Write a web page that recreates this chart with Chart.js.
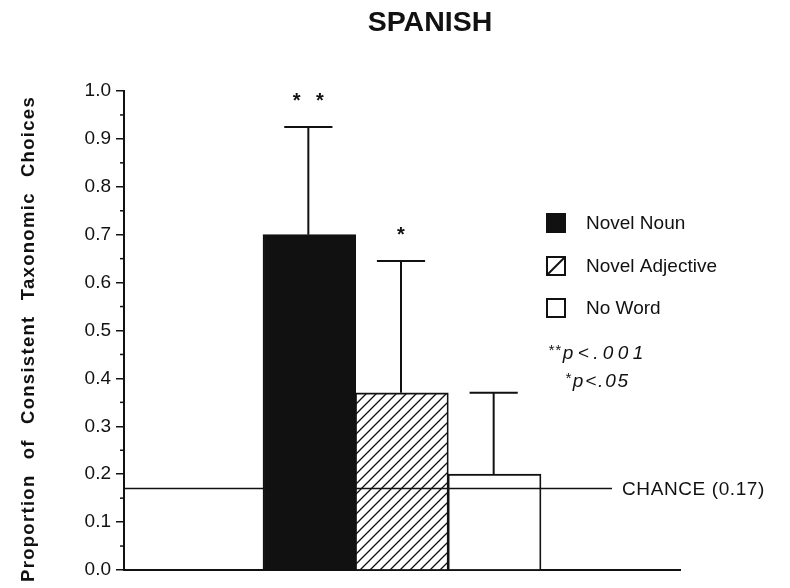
<!DOCTYPE html>
<html>
<head>
<meta charset="utf-8">
<title>Spanish - taxonomic choices</title>
<script src="https://cdn.jsdelivr.net/npm/chart.js@4.4.1/dist/chart.umd.min.js"></script>
<style>
  html, body { margin: 0; padding: 0; background: #fff; }
  #wrap { width: 790px; height: 588px; position: relative; }
</style>
</head>
<body>
<div id="wrap"><canvas id="spanishChart"></canvas></div>
<script>
// data
const chartTitle = 'SPANISH';
const yAxisWords = ['Proportion', 'of', 'Consistent', 'Taxonomic', 'Choices'];
const conditions = ['Novel Noun', 'Novel Adjective', 'No Word'];
const barSlots = [2, 3, 4];
const proportions = [0.70, 0.37, 0.20];
const errorTops = [0.925, 0.645, 0.37];
const significance = ['* *', '*', ''];
const chanceLevel = 0.17;
const chanceLabel = 'CHANCE (0.17)';
const pNoteStars = ['**', '*'];
const pNoteTexts = ['p<.001', 'p<.05'];

const FONT = '"Liberation Sans", Arial, Helvetica, sans-serif';
const INK = '#111';

// diagonal hatch for the adjective bar
function makeHatch() {
    const tile = document.createElement('canvas');
    tile.width = 10;
    tile.height = 10;
    const t = tile.getContext('2d');
    t.fillStyle = '#fff';
    t.fillRect(0, 0, 10, 10);
    t.strokeStyle = INK;
    t.lineWidth = 1.3;
    t.beginPath();
    t.moveTo(0, 10); t.lineTo(10, 0);
    t.moveTo(-1, 1); t.lineTo(1, -1);
    t.moveTo(9, 11); t.lineTo(11, 9);
    t.stroke();
    return document.getElementById('spanishChart').getContext('2d').createPattern(tile, 'repeat');
}

const fills = [INK, makeHatch(), '#fff'];

const annotations = {
    id: 'annotations',
    afterDatasetsDraw(chart) {
        const { ctx, chartArea, scales: { x, y } } = chart;
        ctx.save();
        ctx.strokeStyle = INK;
        ctx.fillStyle = INK;

        // error bars + significance stars
        ctx.lineWidth = 2;
        barSlots.forEach((slot, i) => {
            const cx = x.getPixelForValue(slot) - 1;
            const half = x.getPixelForValue(slot + 0.26) - x.getPixelForValue(slot);
            const top = y.getPixelForValue(errorTops[i]);
            const base = y.getPixelForValue(proportions[i]);
            ctx.beginPath();
            ctx.moveTo(cx, base);
            ctx.lineTo(cx, top);
            ctx.moveTo(cx - half, top);
            ctx.lineTo(cx + half, top);
            ctx.stroke();
            if (significance[i]) {
                ctx.font = 'bold 20px ' + FONT;
                ctx.letterSpacing = '5px';
                ctx.textAlign = 'center';
                ctx.textBaseline = 'alphabetic';
                ctx.fillText(significance[i], cx + 2.5, top - 20);
            }
        });

        // chance line and label
        const cy = y.getPixelForValue(chanceLevel);
        const labelX = chartArea.right - 58;
        ctx.lineWidth = 1.6;
        ctx.beginPath();
        ctx.moveTo(chartArea.left, cy);
        ctx.lineTo(labelX - 10, cy);
        ctx.stroke();
        ctx.letterSpacing = '0.6px';
        ctx.font = '19px ' + FONT;
        ctx.textAlign = 'left';
        ctx.textBaseline = 'middle';
        ctx.fillText(chanceLabel, labelX, cy + 1);

        // minor ticks halfway between the labelled ones
        const ticks = y.ticks;
        ctx.lineWidth = 1.5;
        for (let i = 0; i < ticks.length - 1; i++) {
            const py = y.getPixelForValue((ticks[i].value + ticks[i + 1].value) / 2);
            ctx.beginPath();
            ctx.moveTo(chartArea.left - 4, py);
            ctx.lineTo(chartArea.left, py);
            ctx.stroke();
        }
        ctx.restore();
    },
    afterDraw(chart) {
        const { ctx } = chart;
        ctx.save();
        ctx.fillStyle = INK;
        ctx.strokeStyle = INK;

        // title
        ctx.font = 'bold 28.5px ' + FONT;
        ctx.textAlign = 'center';
        ctx.textBaseline = 'middle';
        ctx.fillText(chartTitle, 430, 23);

        // rotated y label, words spread over the axis height
        ctx.font = 'bold 18.5px ' + FONT;
        ctx.letterSpacing = '1.3px';
        const widths = yAxisWords.map(w => ctx.measureText(w).width);
        const span = 486;
        const gap = (span - widths.reduce((a, b) => a + b, 0)) / (yAxisWords.length - 1);
        ctx.translate(29, 582);
        ctx.rotate(-Math.PI / 2);
        ctx.textAlign = 'left';
        let pos = 0;
        yAxisWords.forEach((w, i) => {
            ctx.fillText(w, pos, 0);
            pos += widths[i] + gap;
        });
        ctx.setTransform(1, 0, 0, 1, 0, 0);

        // legend
        ctx.letterSpacing = '0px';
        ctx.font = '19px ' + FONT;
        ctx.textAlign = 'left';
        ctx.textBaseline = 'middle';
        const rows = [223, 266, 308];
        chart.data.datasets.forEach((ds, i) => {
            const bx = 547, by = rows[i] - 9, s = 18;
            ctx.lineWidth = 2;
            ctx.fillStyle = i === 0 ? INK : '#fff';
            ctx.fillRect(bx, by, s, s);
            ctx.strokeRect(bx, by, s, s);
            if (i === 1) {
                ctx.beginPath();
                ctx.moveTo(bx, by + s);
                ctx.lineTo(bx + s, by);
                ctx.stroke();
            }
            ctx.fillStyle = INK;
            ctx.fillText(ds.label, 586, rows[i] + 1);
        });

        // p-value notes
        const noteRows = [[548, 354, '4.4px'], [565, 382, '1.8px']];
        noteRows.forEach(([nx, ny, ls], i) => {
            ctx.font = 'italic 15px ' + FONT;
            ctx.letterSpacing = '1px';
            ctx.fillText(pNoteStars[i], nx, ny - 3);
            const sw = ctx.measureText(pNoteStars[i]).width;
            ctx.font = 'italic 19px ' + FONT;
            ctx.letterSpacing = ls;
            ctx.fillText(pNoteTexts[i], nx + sw + 1, ny);
        });
        ctx.restore();
    }
};

const ctx = document.getElementById('spanishChart').getContext('2d');
new Chart(ctx, {
    type: 'bar',
    data: {
        datasets: conditions.map((label, i) => ({
            label: label,
            data: [{ x: barSlots[i], y: proportions[i] }],
            backgroundColor: fills[i],
            borderColor: INK,
            borderWidth: { top: 2, left: 1.5, right: 1.8, bottom: 0 },
            borderSkipped: false,
            grouped: false,
            barPercentage: 1,
            categoryPercentage: 1
        }))
    },
    options: {
        responsive: true,
        maintainAspectRatio: false,
        animation: false,
        font: { family: FONT },
        layout: { padding: { top: 91, right: 110, bottom: 18, left: 0 } },
        scales: {
            x: {
                type: 'linear',
                min: 0,
                max: 6,
                offset: false,
                ticks: { display: false, stepSize: 1 },
                grid: { display: false, drawTicks: false },
                border: { display: true, color: INK, width: 2 },
                afterFit: s => { s.height = 0; }
            },
            y: {
                min: 0,
                max: 1,
                ticks: {
                    stepSize: 0.1,
                    color: INK,
                    padding: 5,
                    font: { family: FONT, size: 19 },
                    callback: v => v.toFixed(1)
                },
                grid: {
                    drawOnChartArea: false,
                    drawTicks: true,
                    tickLength: 8,
                    color: INK,
                    lineWidth: 1.5
                },
                border: { display: true, color: INK, width: 2 },
                afterFit: s => { s.width = 124; }
            }
        },
        plugins: {
            legend: { display: false },
            tooltip: { enabled: false }
        }
    },
    plugins: [annotations]
});
</script>
</body>
</html>
